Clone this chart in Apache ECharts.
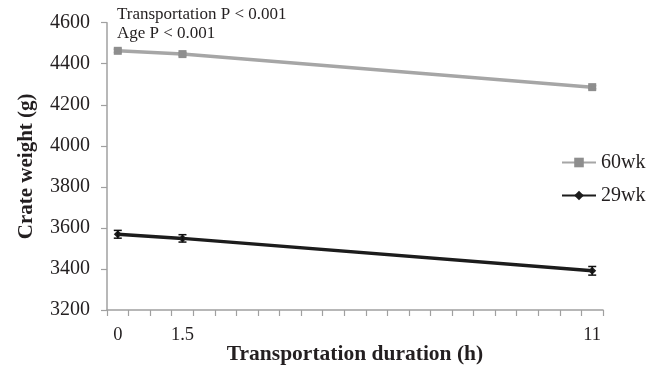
<!DOCTYPE html>
<html>
<head>
<meta charset="utf-8">
<script src="https://cdn.jsdelivr.net/npm/echarts@6/dist/echarts.min.js"></script>
<style>html,body{margin:0;padding:0;background:#fff}#c{width:660px;height:367px}</style>
</head>
<body>
<div id="c"></div>
<script>
var categories = ['0','0.5','1','1.5','2','2.5','3','3.5','4','4.5','5','5.5','6','6.5','7','7.5','8','8.5','9','9.5','10','10.5','11'];
var shownLabels = ['0','1.5','11'];
var measuredAt = ['0','1.5','11'];
var wk60 = [4463, 4447, 4286];
var wk60Err = [8, 8, 8];
var wk29 = [3569, 3549, 3391];
var wk29Err = [19, 18, 21];
var yTicks = [3200, 4600, 200];
var notes = ['Transportation P < 0.001', 'Age P < 0.001'];

function toSeries(vals) {
  return categories.map(function (c) {
    var i = measuredAt.indexOf(c);
    return i >= 0 ? vals[i] : null;
  });
}
function toErr(vals, errs) {
  return measuredAt.map(function (c, i) {
    return [categories.indexOf(c), vals[i] - errs[i], vals[i] + errs[i]];
  });
}
function errRender(color) {
  return function (params, api) {
    var x = api.value(0);
    var lo = api.coord([x, api.value(1)]);
    var hi = api.coord([x, api.value(2)]);
    var w = 4;
    var st = { stroke: color, lineWidth: 1.5 };
    return { type: 'group', children: [
      { type: 'line', shape: { x1: lo[0], y1: lo[1], x2: hi[0], y2: hi[1] }, style: st },
      { type: 'line', shape: { x1: lo[0] - w, y1: lo[1], x2: lo[0] + w, y2: lo[1] }, style: st },
      { type: 'line', shape: { x1: hi[0] - w, y1: hi[1], x2: hi[0] + w, y2: hi[1] }, style: st }
    ]};
  };
}
var font = 'Liberation Serif';
var txt = '#231f20';
var axisColor = '#a0a0a0';
var c60 = '#a6a6a6', c29 = '#1c1c1c';
var chart = echarts.init(document.getElementById('c'));
chart.setOption({
  animation: false,
  textStyle: { fontFamily: font },
  grid: { left: 107, right: 57, top: 22.7, bottom: 57, outerBoundsMode: 'none', containLabel: false },
  legend: {
    orient: 'vertical', left: 556, top: 147.5, itemWidth: 34, itemHeight: 12, itemGap: 13,
    data: ['60wk', '29wk'],
    textStyle: { fontFamily: font, fontSize: 20, color: txt }
  },
  graphic: [
    { type: 'text', style: { x: 117, y: 15, verticalAlign: 'middle', text: notes[0], font: '17px "Liberation Serif"', fill: txt } },
    { type: 'text', style: { x: 117, y: 34, verticalAlign: 'middle', text: notes[1], font: '17px "Liberation Serif"', fill: txt } }
  ],
  xAxis: {
    type: 'category', data: categories, boundaryGap: true,
    name: 'Transportation duration (h)', nameLocation: 'middle', nameGap: 33, nameMoveOverlap: false,
    nameTextStyle: { fontFamily: font, fontSize: 21.5, fontWeight: 'bold', color: txt },
    axisLine: { lineStyle: { color: axisColor, width: 1.5 } },
    axisTick: { show: true, interval: 0, length: 6, lineStyle: { color: axisColor, width: 1.2 } },
    axisLabel: {
      interval: 0, margin: 16, fontFamily: font, fontSize: 18.5, color: txt,
      formatter: function (v) { return shownLabels.indexOf(v) >= 0 ? v : ''; }
    },
    splitLine: { show: false }
  },
  yAxis: {
    type: 'value', min: yTicks[0], max: yTicks[1], interval: yTicks[2],
    name: 'Crate weight (g)', nameLocation: 'middle', nameGap: 70, nameMoveOverlap: false,
    nameTextStyle: { fontFamily: font, fontSize: 21, fontWeight: 'bold', color: txt },
    axisLine: { show: true, lineStyle: { color: axisColor, width: 1.5 } },
    axisTick: { show: true, length: 6, lineStyle: { color: axisColor, width: 1.2 } },
    axisLabel: { margin: 17, fontFamily: font, fontSize: 20, color: txt, formatter: function (v) { return String(v); } },
    splitLine: { show: false }
  },
  series: [
    { name: '60wk', type: 'line', data: toSeries(wk60), connectNulls: true,
      symbol: 'rect', symbolSize: 8, itemStyle: { color: '#8e8e8e' },
      lineStyle: { color: c60, width: 3.5 }, color: c60, z: 3 },
    { name: '29wk', type: 'line', data: toSeries(wk29), connectNulls: true,
      symbol: 'diamond', symbolSize: 8, itemStyle: { color: c29 },
      lineStyle: { color: c29, width: 3.5 }, color: c29, z: 3 },
    { type: 'custom', data: toErr(wk60, wk60Err), renderItem: errRender('#8e8e8e'), z: 4, silent: true },
    { type: 'custom', data: toErr(wk29, wk29Err), renderItem: errRender('#111'), z: 4, silent: true }
  ]
});
</script>
</body>
</html>
